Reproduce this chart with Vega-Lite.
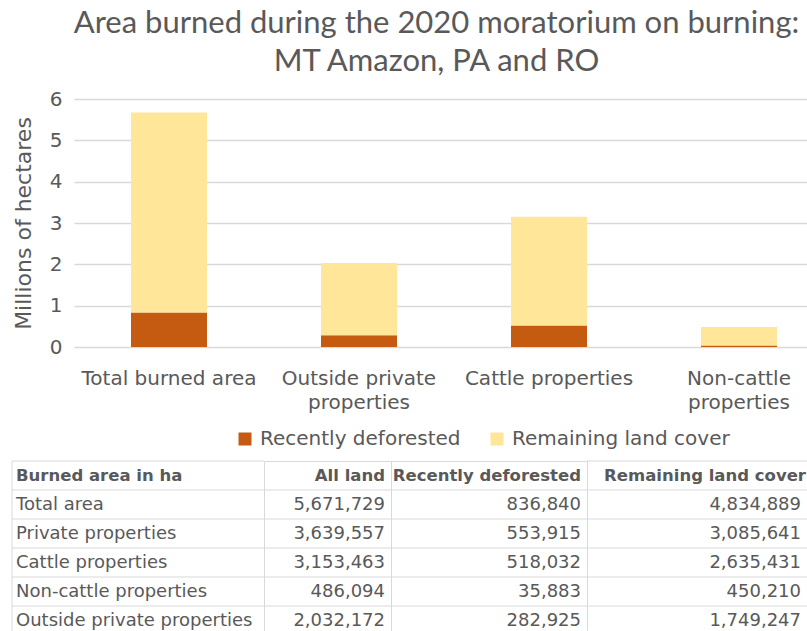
{
  "$schema": "https://vega.github.io/schema/vega-lite/v6.json",
  "background": "white",
  "padding": {"left": 11, "top": 8, "right": 0, "bottom": 0},
  "spacing": 11,
  "resolve": {"scale": {"color": "independent"}, "legend": {"color": "independent"}},
  "config": {
    "font": "DejaVu Sans",
    "view": {"stroke": "#d9d9d9", "strokeWidth": 1},
    "text": {"color": "#595959", "fontSize": 18, "baseline": "middle"}
  },
  "datasets": {
    "bars": [
      {"category": "Total burned area", "cover": "Recently deforested", "ha": 836840},
      {"category": "Total burned area", "cover": "Remaining land cover", "ha": 4834889},
      {"category": "Outside private properties", "cover": "Recently deforested", "ha": 282925},
      {"category": "Outside private properties", "cover": "Remaining land cover", "ha": 1749247},
      {"category": "Cattle properties", "cover": "Recently deforested", "ha": 518032},
      {"category": "Cattle properties", "cover": "Remaining land cover", "ha": 2635431},
      {"category": "Non-cattle properties", "cover": "Recently deforested", "ha": 35883},
      {"category": "Non-cattle properties", "cover": "Remaining land cover", "ha": 450210}
    ],
    "table": [
      {"item": "Total area", "all": 5671729, "deforested": 836840, "remaining": 4834889},
      {"item": "Private properties", "all": 3639557, "deforested": 553915, "remaining": 3085641},
      {"item": "Cattle properties", "all": 3153463, "deforested": 518032, "remaining": 2635431},
      {"item": "Non-cattle properties", "all": 486094, "deforested": 35883, "remaining": 450210},
      {"item": "Outside private properties", "all": 2032172, "deforested": 282925, "remaining": 1749247}
    ]
  },
  "vconcat": [
    {
      "title": {
        "text": ["Area burned during the 2020 moratorium on burning:", "MT Amazon, PA and RO"],
        "font": "Lato", "fontSize": 31, "fontWeight": "normal", "color": "#595959",
        "lineHeight": 38, "offset": 11, "anchor": "middle"
      },
      "width": 725,
      "height": 248,
      "view": {"stroke": null},
      "data": {"name": "bars"},
      "mark": {"type": "bar"},
      "encoding": {
        "x": {
          "field": "category", "type": "nominal",
          "sort": ["Total burned area", "Outside private properties", "Cattle properties", "Non-cattle properties"],
          "scale": {"range": [0, 760], "paddingInner": 0.6, "paddingOuter": 0.3},
          "axis": {
            "title": null, "labelAngle": 0, "domain": false, "ticks": false,
            "labelPadding": 21, "labelFontSize": 20, "labelColor": "#595959", "labelFont": "DejaVu Sans",
            "labelLineHeight": 24,
            "labelExpr": "datum.label == 'Outside private properties' ? ['Outside private', 'properties'] : datum.label == 'Non-cattle properties' ? ['Non-cattle', 'properties'] : datum.label"
          }
        },
        "y": {
          "field": "ha", "type": "quantitative", "stack": "zero",
          "scale": {"domain": [0, 6000000], "nice": false},
          "axis": {
            "values": [0, 1000000, 2000000, 3000000, 4000000, 5000000, 6000000],
            "labelExpr": "datum.value / 1000000",
            "title": "Millions of hectares", "titleFontSize": 22, "titleFontWeight": "normal",
            "titleColor": "#595959", "titleFont": "DejaVu Sans", "titlePadding": 14,
            "labelFontSize": 20, "labelColor": "#595959", "labelFont": "DejaVu Sans", "labelPadding": 12,
            "domain": false, "ticks": false, "gridColor": "#d9d9d9", "gridWidth": 1.3
          }
        },
        "order": {"field": "cover", "type": "nominal", "sort": "ascending"},
        "color": {
          "field": "cover", "type": "nominal",
          "scale": {"domain": ["Recently deforested", "Remaining land cover"], "range": ["#C55A11", "#FFE699"]},
          "legend": {
            "orient": "none", "legendX": 161, "legendY": 330, "direction": "horizontal", "title": null,
            "symbolType": "square", "symbolSize": 169, "symbolStrokeWidth": 0, "symbolOpacity": 1,
            "labelFontSize": 20, "labelColor": "#595959", "labelFont": "DejaVu Sans", "labelLimit": 400,
            "columnPadding": 26, "labelOffset": 5
          }
        }
      }
    },
    {
      "spacing": 0,
      "bounds": "flush",
      "hconcat": [
        {
          "width": 190, "height": 174,
          "view": {"stroke": null},
          "data": {"name": "table"},
          "encoding": {
            "y": {"field": "item", "type": "nominal",
              "scale": {"domain": ["Burned area in ha", "Total area", "Private properties", "Cattle properties", "Non-cattle properties", "Outside private properties"], "paddingInner": 0, "paddingOuter": 0},
              "axis": null}
          },
          "layer": [
            {"mark": {"type": "rule", "color": "#d9d9d9"}, "encoding": {"x": {"value": -62}, "x2": {"value": "width"}, "y": {"field": "item", "type": "nominal", "bandPosition": 0}}},
            {"data": {"values": [{}]}, "mark": {"type": "rule", "color": "#d9d9d9"}, "encoding": {"x": {"value": -62}, "x2": {"value": "width"}, "y": {"datum": "Burned area in ha", "type": "nominal", "bandPosition": 0}}},
            {"data": {"values": [{}]}, "mark": {"type": "rule", "color": "#d9d9d9"}, "encoding": {"x": {"value": -62}, "y": {"value": 0}, "y2": {"value": "height"}}},
            {"mark": {"type": "text", "align": "left", "dx": -58}, "encoding": {"x": {"value": 0}, "text": {"field": "item"}}},
            {"data": {"values": [{}]}, "mark": {"type": "text", "align": "left", "dx": -58, "fontWeight": "bold", "fontSize": 16.5, "text": "Burned area in ha"}, "encoding": {"x": {"value": 0}, "y": {"datum": "Burned area in ha", "type": "nominal"}}}
          ]
        },
        {
          "width": 127, "height": 174,
          "data": {"name": "table"},
          "encoding": {
            "y": {"field": "item", "type": "nominal",
              "scale": {"domain": ["Burned area in ha", "Total area", "Private properties", "Cattle properties", "Non-cattle properties", "Outside private properties"], "paddingInner": 0, "paddingOuter": 0},
              "axis": null}
          },
          "layer": [
            {"mark": {"type": "rule", "color": "#d9d9d9"}, "encoding": {"y": {"field": "item", "type": "nominal", "bandPosition": 0}}},
            {"mark": {"type": "text", "align": "right", "dx": -6}, "encoding": {"x": {"value": "width"}, "text": {"field": "all", "type": "quantitative", "format": ","}}},
            {"data": {"values": [{}]}, "mark": {"type": "text", "align": "right", "dx": -6, "fontWeight": "bold", "fontSize": 16.5, "text": "All land"}, "encoding": {"x": {"value": "width"}, "y": {"datum": "Burned area in ha", "type": "nominal"}}}
          ]
        },
        {
          "width": 196, "height": 174,
          "data": {"name": "table"},
          "encoding": {
            "y": {"field": "item", "type": "nominal",
              "scale": {"domain": ["Burned area in ha", "Total area", "Private properties", "Cattle properties", "Non-cattle properties", "Outside private properties"], "paddingInner": 0, "paddingOuter": 0},
              "axis": null}
          },
          "layer": [
            {"mark": {"type": "rule", "color": "#d9d9d9"}, "encoding": {"y": {"field": "item", "type": "nominal", "bandPosition": 0}}},
            {"mark": {"type": "text", "align": "right", "dx": -6}, "encoding": {"x": {"value": "width"}, "text": {"field": "deforested", "type": "quantitative", "format": ","}}},
            {"data": {"values": [{}]}, "mark": {"type": "text", "align": "right", "dx": -6, "fontWeight": "bold", "fontSize": 16.5, "text": "Recently deforested"}, "encoding": {"x": {"value": "width"}, "y": {"datum": "Burned area in ha", "type": "nominal"}}}
          ]
        },
        {
          "width": 220, "height": 174,
          "view": {"stroke": null},
          "data": {"name": "table"},
          "encoding": {
            "y": {"field": "item", "type": "nominal",
              "scale": {"domain": ["Burned area in ha", "Total area", "Private properties", "Cattle properties", "Non-cattle properties", "Outside private properties"], "paddingInner": 0, "paddingOuter": 0},
              "axis": null}
          },
          "layer": [
            {"mark": {"type": "rule", "color": "#d9d9d9"}, "encoding": {"y": {"field": "item", "type": "nominal", "bandPosition": 0}}},
            {"data": {"values": [{}]}, "mark": {"type": "rule", "color": "#d9d9d9"}, "encoding": {"y": {"datum": "Burned area in ha", "type": "nominal", "bandPosition": 0}}},
            {"mark": {"type": "text", "align": "right", "dx": -6}, "encoding": {"x": {"value": "width"}, "text": {"field": "remaining", "type": "quantitative", "format": ","}}},
            {"data": {"values": [{}]}, "mark": {"type": "text", "align": "right", "dx": -1, "fontWeight": "bold", "fontSize": 16.5, "text": "Remaining land cover"}, "encoding": {"x": {"value": "width"}, "y": {"datum": "Burned area in ha", "type": "nominal"}}}
          ]
        }
      ]
    }
  ]
}
